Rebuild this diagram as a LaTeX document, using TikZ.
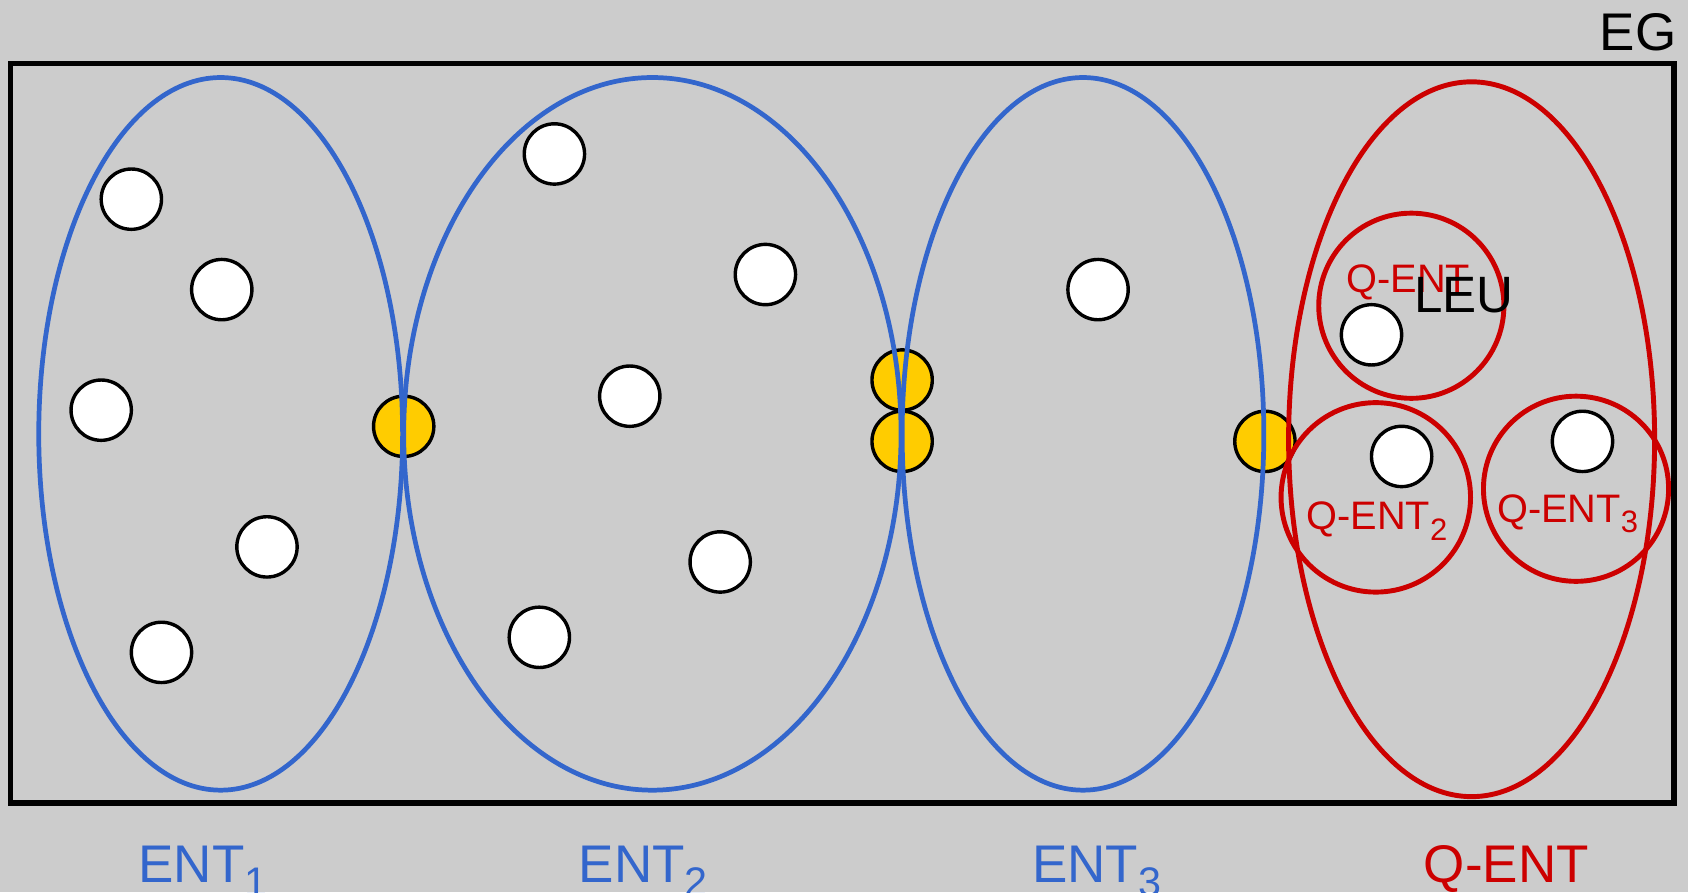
\documentclass[tikz,border=0pt]{standalone}
\usepackage{fontspec}
\setmainfont{Liberation Sans}
\definecolor{entblue}{HTML}{3366CC}
\definecolor{qred}{HTML}{CC0000}
\definecolor{linkyellow}{HTML}{FFCC00}
\definecolor{bggray}{HTML}{CCCCCC}
\newcommand\lowsub[1]{\raisebox{-0.26em}{\scalebox{0.78}{#1}}}
\tikzset{
  entity/.style={circle,draw=black,line width=0.9pt,fill=white,minimum size=0.56cm,inner sep=0pt},
  linker/.style={entity,fill=linkyellow},
  entline/.style={draw=entblue,line width=1.25pt},
  qline/.style={draw=qred,line width=1.3pt},
  biglabel/.style={font=\fontsize{14}{17}\selectfont,inner sep=0pt},
  smalllabel/.style={font=\fontsize{10.5}{12}\selectfont,inner sep=0pt,text=qred}
}
\begin{document}
\begin{tikzpicture}[x=0.01cm,y=-0.01cm]

\fill[bggray] (0,0) rectangle (1568,829);
\useasboundingbox (0,0) rectangle (1568,829);

% shared entities
\node[linker] (y1) at (375,396) {};
\node[linker] (y2) at (838,353) {};
\node[linker] (y3) at (838,410) {};
\node[linker] (y4) at (1175,410) {};

% groups
\draw[entline] (205,403) ellipse (169 and 331);
\draw[entline] (606,403) ellipse (231 and 331);
\draw[entline] (1006,403) ellipse (168 and 331);
\draw[qline] (1367,408) ellipse (170 and 332);

\draw[qline] (1311,284) circle (86);
\draw[qline] (1278,462) circle (88);
\draw[qline] (1464,454) circle (86);

% entities of ENT1
\node[entity] (a1) at (122,185) {};
\node[entity] (a2) at (206,269) {};
\node[entity] (a3) at (94,381) {};
\node[entity] (a4) at (248,508) {};
\node[entity] (a5) at (150,606) {};

% entities of ENT2
\node[entity] (b1) at (515,143) {};
\node[entity] (b2) at (711,255) {};
\node[entity] (b3) at (585,368) {};
\node[entity] (b4) at (669,522) {};
\node[entity] (b5) at (501,592) {};

% entities of ENT3 and Q-ENT
\node[entity] (c1) at (1020,269) {};
\node[entity] (q1) at (1274,311) {};
\node[entity] (q2) at (1302,424) {};
\node[entity] (q3) at (1470,410) {};

\node[smalllabel,anchor=base west] (lq1) at (1250,272) {Q-ENT};
\node[smalllabel,anchor=base west] (lq2) at (1213,492) {Q-ENT\lowsub{2}};
\node[smalllabel,anchor=base west] (lq3) at (1390,485) {Q-ENT\lowsub{3}};
\node[font=\fontsize{13.5}{16}\selectfont,inner sep=0pt,anchor=base west] (leu) at (1313,290) {LEU};

\draw[line width=1.4pt] (10,59) rectangle (1555,746);
\node[biglabel,anchor=base east] (eg) at (1558,47) {EG};

\node[biglabel,text=entblue,anchor=base west] (l1) at (128,820) {ENT\lowsub{1}};
\node[biglabel,text=entblue,anchor=base west] (l2) at (537,820) {ENT\lowsub{2}};
\node[biglabel,text=entblue,anchor=base west] (l3) at (958,820) {ENT\lowsub{3}};
\node[biglabel,text=qred,anchor=base west] (l4) at (1322,820) {Q-ENT};

\end{tikzpicture}
\end{document}
